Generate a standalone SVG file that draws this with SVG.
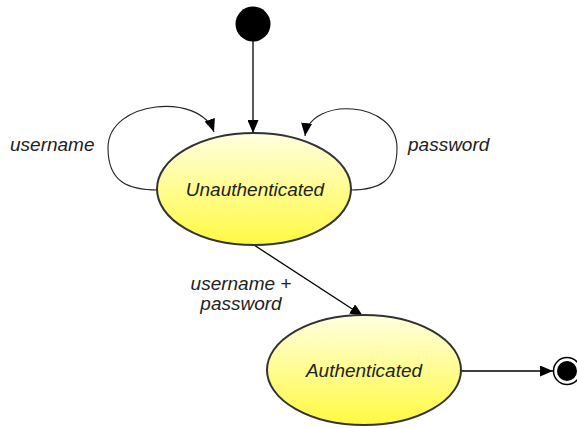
<svg xmlns="http://www.w3.org/2000/svg" width="577" height="428" viewBox="0 0 577 428">
<defs>
<linearGradient id="yg" x1="0" y1="0" x2="0" y2="1">
<stop offset="0" stop-color="#ffffe0"/>
<stop offset="1" stop-color="#fffa40"/>
</linearGradient>
<marker id="ah" markerWidth="13" markerHeight="11" refX="13" refY="5.5" orient="auto" markerUnits="userSpaceOnUse">
<path d="M0,0 L13,5.5 L0,11 Z" fill="#000"/>
</marker>
<style>
.st{fill:url(#yg);stroke:#333;stroke-width:2}
.c{fill:none;stroke:#000;stroke-width:1.3}
.cv{fill:none;stroke:#222;stroke-width:1.1}
text{font-family:"Liberation Sans",Arial,sans-serif;font-style:italic;font-size:19px;fill:#222}
</style>
</defs>
<rect width="577" height="428" fill="#fff"/>
<g id="connectors">
<line class="c" x1="253" y1="41" x2="253" y2="133" marker-end="url(#ah)"/>
<path class="cv" d="M158,190 C128,190 108,182 108,148 C108,100 200,92 214,132" marker-end="url(#ah)"/>
<path class="cv" d="M351,190 C378,190 397,182 397,148 C397,100 310,96 305,136" marker-end="url(#ah)"/>
<line class="c" x1="254" y1="245" x2="363" y2="316" marker-end="url(#ah)"/>
<line class="c" x1="461" y1="371" x2="553" y2="371" marker-end="url(#ah)"/>
</g>
<g id="initial">
<circle cx="253" cy="24" r="17.5" fill="#000"/>
</g>
<g id="unauthenticated">
<ellipse class="st" cx="254" cy="189" rx="97" ry="56"/>
<text x="255" y="196" text-anchor="middle">Unauthenticated</text>
</g>
<g id="authenticated">
<ellipse class="st" cx="364" cy="370" rx="97" ry="55"/>
<text x="364" y="377" text-anchor="middle">Authenticated</text>
</g>
<g id="final">
<circle cx="567" cy="371" r="13.5" fill="#fff" stroke="#000" stroke-width="1.5"/>
<circle cx="567" cy="371" r="10" fill="#000"/>
</g>
<g id="labels">
<text x="10" y="151">username</text>
<text x="408" y="151">password</text>
<text x="241" y="290" text-anchor="middle">username +</text>
<text x="241" y="310" text-anchor="middle">password</text>
</g>
</svg>
